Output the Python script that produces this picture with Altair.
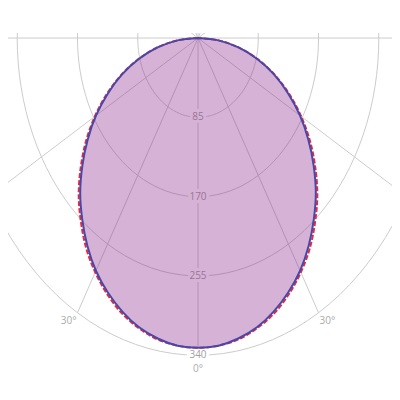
import altair as alt
import pandas as pd
import numpy as np

# Intensity readings (cd) by angle from nadir, symmetric for +/-
angles = [0, 5, 10, 15, 20, 25, 30, 35, 40, 45, 50, 55, 60, 65, 70, 75, 80, 85, 90]
plane_c0 = [332, 331, 327, 321, 312, 301, 288, 272, 254, 235, 213, 190, 166, 140, 114, 86, 58, 29, 0]
plane_c90 = [332, 331, 328, 322, 314, 303, 290, 275, 257, 238, 216, 193, 168, 142, 115, 87, 58, 29, 0]

ring_values = [85, 170, 255, 340]
spoke_angles = [0, 30, 60, 90, 120, 150, 180, 210, 240, 270, 300, 330]
angle_label_angles = [-30, 30]
angle_label_texts = ["30°", "30°"]
zero_label = "0°"

def curve_df(vals):
    rows = []
    full = [(-a, v) for a, v in zip(angles[::-1], vals[::-1])] + [(a, v) for a, v in zip(angles[1:], vals[1:])]
    for i, (a, v) in enumerate(full):
        t = np.radians(a)
        rows.append({"x": v * np.sin(t), "y": -v * np.cos(t), "o": i})
    return pd.DataFrame(rows)

fill_df = pd.DataFrame({
    "y": [-v * np.cos(np.radians(a)) for a, v in zip(angles, plane_c0)],
    "xl": [-v * np.sin(np.radians(a)) for a, v in zip(angles, plane_c0)],
    "xr": [v * np.sin(np.radians(a)) for a, v in zip(angles, plane_c0)],
})

ring_rows = []
for r in ring_values:
    for t in range(0, 361, 3):
        tr = np.radians(t)
        ring_rows.append({"ring": r, "t": t, "x": r * np.sin(tr), "y": -r * np.cos(tr)})
ring_df = pd.DataFrame(ring_rows)

outer = ring_values[-1]
spoke_df = pd.DataFrame({
    "x0": [0.0] * len(spoke_angles),
    "y0": [0.0] * len(spoke_angles),
    "x1": [outer * np.sin(np.radians(a)) for a in spoke_angles],
    "y1": [-outer * np.cos(np.radians(a)) for a in spoke_angles],
})

ring_label_df = pd.DataFrame({
    "x": [0.0] * len(ring_values),
    "y": [-float(r) for r in ring_values],
    "label": [str(r) for r in ring_values],
})

angle_label_df = pd.DataFrame({
    "x": [outer * np.sin(np.radians(a)) for a in angle_label_angles],
    "y": [-outer * np.cos(np.radians(a)) for a in angle_label_angles],
    "label": angle_label_texts,
    "side": ["left", "right"],
})
zero_df = pd.DataFrame({"x": [0.0], "y": [-float(outer)], "label": [zero_label]})

xs = alt.Scale(domain=[-268, 273.6], nice=False, zero=False)
ys = alt.Scale(domain=[-379.4, 5.4], nice=False, zero=False)

grid_color = "#cccccc"
font = "Open Sans"
label_color = "#ababab"
fs = 10

rings = alt.Chart(ring_df).mark_line(color=grid_color, strokeWidth=1, clip=True).encode(
    x=alt.X("x:Q", scale=xs, axis=None),
    y=alt.Y("y:Q", scale=ys, axis=None),
    detail="ring:N",
    order="t:Q",
)

spokes = alt.Chart(spoke_df).mark_rule(color=grid_color, strokeWidth=1, clip=True).encode(
    x=alt.X("x0:Q", scale=xs, axis=None),
    y=alt.Y("y0:Q", scale=ys, axis=None),
    x2="x1:Q",
    y2="y1:Q",
)

ring_halo = alt.Chart(ring_label_df).mark_text(
    font=font, fontSize=fs, stroke="white", strokeWidth=6, fill="white", baseline="middle", clip=True
).encode(x=alt.X("x:Q", scale=xs), y=alt.Y("y:Q", scale=ys), text="label:N")

ring_text = alt.Chart(ring_label_df).mark_text(
    font=font, fontSize=fs, color="#a0a0a0", baseline="middle", clip=True
).encode(x=alt.X("x:Q", scale=xs), y=alt.Y("y:Q", scale=ys), text="label:N")

left_text = alt.Chart(angle_label_df).transform_filter("datum.side == 'left'").mark_text(
    font=font, fontSize=fs, color=label_color, baseline="middle", align="right", dx=-1, dy=8, clip=True
).encode(x=alt.X("x:Q", scale=xs), y=alt.Y("y:Q", scale=ys), text="label:N")

right_text = alt.Chart(angle_label_df).transform_filter("datum.side == 'right'").mark_text(
    font=font, fontSize=fs, color=label_color, baseline="middle", align="left", dx=1, dy=8, clip=True
).encode(x=alt.X("x:Q", scale=xs), y=alt.Y("y:Q", scale=ys), text="label:N")

zero_text = alt.Chart(zero_df).mark_text(
    font=font, fontSize=fs, color=label_color, baseline="middle", dy=14, clip=True
).encode(x=alt.X("x:Q", scale=xs), y=alt.Y("y:Q", scale=ys), text="label:N")

fill = alt.Chart(fill_df).mark_area(
    orient="horizontal", color="#8e2a8e", opacity=0.36, interpolate="cardinal", clip=True
).encode(
    y=alt.Y("y:Q", scale=ys),
    x=alt.X("xl:Q", scale=xs),
    x2="xr:Q",
)

red_line = alt.Chart(curve_df(plane_c90)).mark_line(
    color="#e8283c", strokeWidth=2, strokeDash=[5, 2], interpolate="cardinal", clip=True
).encode(x=alt.X("x:Q", scale=xs), y=alt.Y("y:Q", scale=ys), order="o:Q")

blue_line = alt.Chart(curve_df(plane_c0)).mark_line(
    color="#4848a8", strokeWidth=2, interpolate="cardinal", clip=True
).encode(x=alt.X("x:Q", scale=xs), y=alt.Y("y:Q", scale=ys), order="o:Q")

chart = alt.layer(
    rings, spokes, ring_halo, ring_text, fill, red_line, blue_line, left_text, right_text, zero_text
).properties(
    width=384, height=359,
    autosize=alt.AutoSizeParams(type="none"),
    padding={"top": 25, "left": 0, "right": 0, "bottom": 0},
).configure_view(stroke=None)

chart.save("out.html", embed_options={"renderer": "svg", "actions": False})
